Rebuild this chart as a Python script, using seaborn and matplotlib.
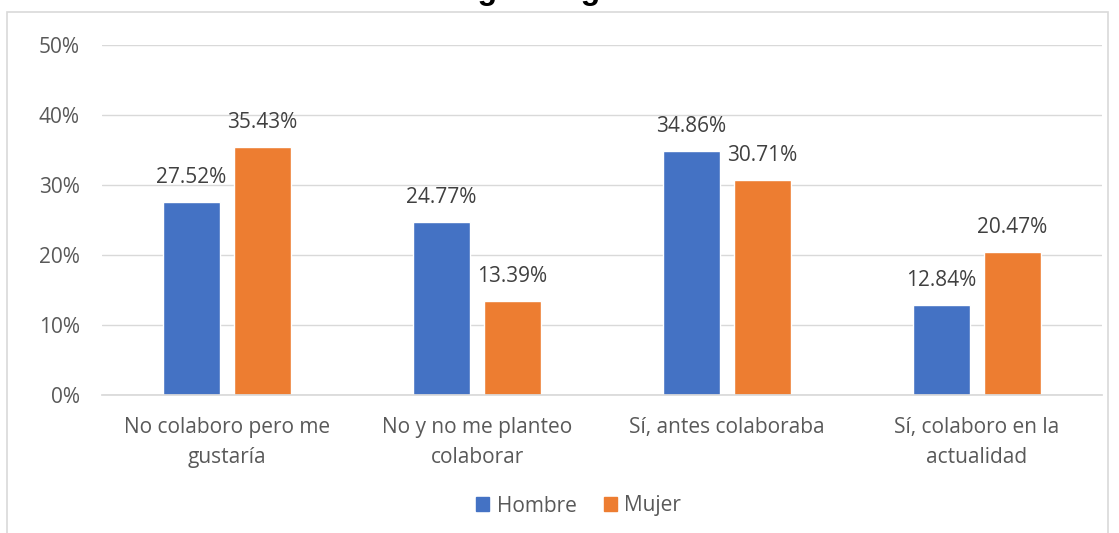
import matplotlib
matplotlib.use("Agg")
import matplotlib.pyplot as plt
import seaborn as sns
import pandas as pd
from matplotlib.patches import Rectangle

categories = ["No colaboro pero me\ngustaría", "No y no me planteo\ncolaborar",
              "Sí, antes colaboraba", "Sí, colaboro en la\nactualidad"]
hombre = [27.52, 24.77, 34.86, 12.84]
mujer = [35.43, 13.39, 30.71, 20.47]
series = ["Hombre", "Mujer"]
colors = ["#4472C4", "#ED7D31"]
yticks = [0, 10, 20, 30, 40, 50]

df = pd.DataFrame({
    "cat": categories * 2,
    "val": hombre + mujer,
    "serie": ["Hombre"] * 4 + ["Mujer"] * 4,
})

sns.set_theme(style="white")
plt.rcParams["font.family"] = ["Open Sans", "DejaVu Sans"]

W, H = 1119, 533
fig = plt.figure(figsize=(W / 100, H / 100), dpi=100)
ax = fig.add_axes([102 / W, 1 - 395 / H, 1000 / W, 350 / H])

# chart border
fig.patches.append(Rectangle((7 / W, -0.05), 1101 / W, 1 - 12 / H + 0.05,
                             transform=fig.transFigure, fill=False,
                             edgecolor="#D9D9D9", linewidth=1.2))

sns.barplot(data=df, x="cat", y="val", hue="serie", palette=colors,
            width=0.568, gap=0.21, ax=ax, legend=False, saturation=1)

for cont in ax.containers:
    ax.bar_label(cont, labels=[f"{v:.2f}%" for v in cont.datavalues],
                 padding=10, fontsize=15, color="#404040")

ax.set_xlim(-0.5, 3.5)
ax.set_ylim(0, 50)
ax.set_yticks(yticks)
ax.set_yticklabels([f"{t}%" for t in yticks])
ax.yaxis.grid(True, color="#D9D9D9", linewidth=1)
ax.set_axisbelow(True)
for s in ["top", "right", "left"]:
    ax.spines[s].set_visible(False)
ax.spines["bottom"].set_color("#D9D9D9")
ax.tick_params(axis="y", length=0, pad=16, labelsize=15, labelcolor="#595959")
ax.tick_params(axis="x", length=0, pad=16, labelsize=15, labelcolor="#595959")
for lab in ax.get_xticklabels():
    lab.set_linespacing(1.55)
ax.set_xlabel("")
ax.set_ylabel("")

# title, mostly cut off at the top of the picture
fig.text(0.505, 1 + 1.5 / H, "según el género", ha="center", va="baseline",
         fontsize=23, fontweight="bold", color="#000000",
         family=["Liberation Sans", "DejaVu Sans"])

handles = [Rectangle((0, 0), 1, 1, color=c) for c in colors]
fig.legend(handles, series, loc="center", bbox_to_anchor=(0.517, 1 - 506 / H),
           ncol=2, frameon=False, fontsize=15, handlelength=0.65, handleheight=0.65,
           columnspacing=1.3, handletextpad=0.35, labelcolor="#595959")

fig.savefig("out.png", dpi=100)
